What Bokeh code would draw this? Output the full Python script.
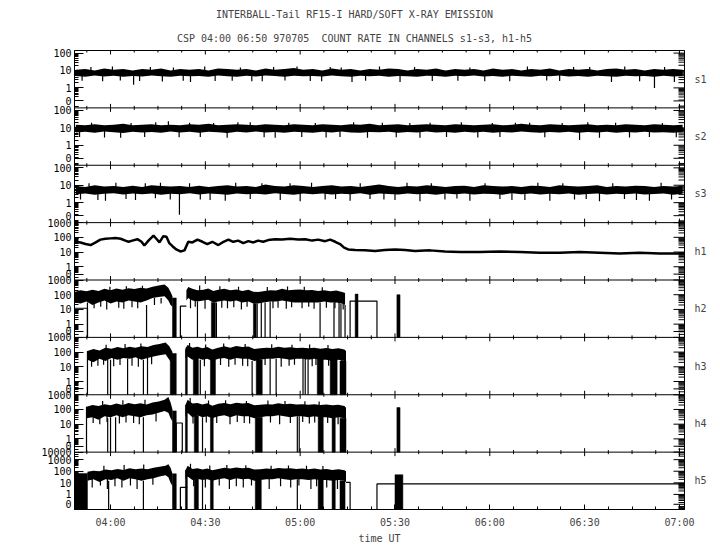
import numpy as np
from bokeh.plotting import figure
from bokeh.models import FixedTicker, LinearAxis, Range1d, Span, Title
from bokeh.embed import file_html
from bokeh.resources import INLINE

nan = float("nan")
FONT = "DejaVu Sans Mono"
FS = "10px"

# ---------------- data (time in minutes after 00:00 UT, values = count rate) ----------
x_ticks = [240, 270, 300, 330, 360, 390, 420]
x_labels = ["04:00", "04:30", "05:00", "05:30", "06:00", "06:30", "07:00"]
panel_names = ["s1", "s2", "s3", "h1", "h2", "h3", "h4", "h5"]

s_t = [229, 232, 235, 238, 241, 244, 247, 250, 253, 256, 259, 262, 265,
       268, 271, 274, 277, 280, 283, 286, 289, 292, 295, 298, 301, 304,
       307, 310, 313, 316, 319, 322, 325, 328, 331, 334, 337, 340, 343,
       346, 349, 352, 355, 358, 361, 364, 367, 370, 373, 376, 379, 382,
       385, 388, 391, 394, 397, 400, 403, 406, 409, 412, 415, 418, 421]
s1_hi = [11, 12, 10, 13, 11, 12, 10, 12, 11, 13, 10, 12, 11,
         12, 10, 13, 12, 11, 12, 10, 13, 11, 12, 14, 11, 12,
         10, 13, 11, 12, 10, 12, 11, 13, 12, 10, 12, 11, 13,
         10, 12, 11, 12, 10, 13, 11, 12, 10, 12, 11, 13, 10,
         12, 11, 12, 10, 12, 13, 11, 12, 10, 12, 11, 12, 11]
s1_lo = [4.8, 4.4, 5.2, 4.5, 5.0, 4.3, 4.9, 4.5, 5.2, 4.6, 4.3, 5.0, 4.6,
         4.9, 4.4, 5.1, 4.7, 4.3, 5.0, 4.5, 5.2, 4.8, 4.4, 5.0, 4.6, 4.9,
         4.5, 5.1, 4.7, 4.3, 5.0, 4.6, 5.0, 4.4, 4.9, 4.7, 4.3, 5.0, 4.8,
         4.4, 5.0, 4.6, 5.1, 4.5, 4.9, 4.3, 5.0, 4.7, 4.4, 5.0, 4.6, 5.1,
         4.5, 4.9, 4.4, 5.0, 4.7, 4.3, 5.0, 4.6, 4.8, 4.4, 5.0, 4.5, 4.9]
s2_hi = [15, 14, 16, 14, 15, 17, 14, 15, 16, 14, 15, 14, 16,
         15, 17, 14, 15, 16, 15, 14, 16, 15, 14, 16, 15, 14,
         16, 15, 14, 16, 15, 17, 14, 15, 16, 14, 15, 16, 15,
         14, 16, 15, 14, 15, 16, 14, 15, 17, 15, 14, 16, 15,
         14, 15, 16, 14, 15, 14, 16, 15, 14, 16, 15, 14, 15]
s2_lo = [5.5, 6.0, 5.2, 6.2, 5.6, 5.0, 6.0, 5.4, 5.8, 5.2, 6.1, 5.5, 5.9,
         5.3, 6.0, 5.6, 5.1, 5.9, 5.4, 6.2, 5.5, 5.8, 5.2, 6.0, 5.6, 5.3,
         5.9, 5.4, 6.1, 5.5, 5.2, 5.8, 5.6, 6.0, 5.3, 5.7, 5.5, 6.1, 5.4,
         5.8, 5.2, 5.9, 5.5, 6.0, 5.3, 5.7, 5.4, 6.1, 5.6, 5.2, 5.8, 5.5,
         6.0, 5.3, 5.7, 5.4, 5.9, 5.2, 5.8, 5.5, 6.0, 5.4, 5.6, 5.3, 5.8]
s3_hi = [9, 8, 10, 8.5, 9, 8, 9.5, 8, 10, 9, 8.5, 9, 8,
         9.5, 8, 9, 10, 8.5, 9, 8, 11, 9, 8.5, 10, 9, 8,
         9, 10, 8.5, 9, 8, 9.5, 11, 9, 8, 9, 8.5, 10, 9,
         8, 9, 9.5, 8, 10, 9, 8.5, 9, 8, 9.5, 9, 8, 10,
         9, 8.5, 9, 10, 8, 9, 8.5, 9.5, 9, 8, 9, 8.5, 9]
s3_lo = [3.0, 3.4, 2.8, 3.2, 3.5, 2.9, 3.3, 3.0, 3.4, 2.8, 3.2, 3.0, 3.5,
         2.9, 3.3, 3.1, 2.8, 3.4, 3.0, 3.2, 2.9, 3.5, 3.1, 2.8, 3.3, 3.0,
         3.4, 2.9, 3.2, 3.0, 3.5, 2.8, 3.3, 3.1, 2.9, 3.4, 3.0, 3.2, 2.8,
         3.3, 3.0, 3.4, 2.9, 3.2, 3.1, 2.8, 3.5, 3.0, 3.3, 2.9, 3.2, 3.0,
         3.4, 2.8, 3.1, 3.3, 2.9, 3.2, 3.0, 3.4, 2.9, 3.1, 3.3, 2.8, 3.2]

# single-sample excursions of the soft channels (time, value) and typical level
s1_mid, s2_mid, s3_mid = 7, 9, 5
s1_spk_t = [231.0, 233.8, 237.5, 240.6, 243.1, 247.3, 249.2, 252.6, 256.4, 259.9,
            263.0, 265.3, 269.8, 273.1, 278.5, 281.1, 284.7, 288.0, 291.6, 295.2,
            299.0, 303.2, 306.8, 309.5, 313.0, 316.4, 320.7, 325.1, 331.6, 336.2,
            341.8, 349.9, 353.7, 358.4, 366.3, 371.9, 378.0, 382.1, 386.5, 391.6,
            398.5, 402.7, 407.4, 412.1, 415.3, 418.4]
s1_spk_v = [2.6, 16, 2.4, 17, 2.7, 1.5, 2.5, 16, 2.3, 15,
            2.6, 2.2, 17, 2.5, 2.6, 15, 2.4, 2.4, 16, 2.7,
            17, 2.5, 2.4, 16, 15, 2.2, 2.6, 17, 2.2, 16,
            2.5, 2.6, 15, 2.4, 2.4, 17, 2.7, 2.5, 16, 16,
            2.2, 17, 2.4, 1.0, 16, 2.2]
s2_spk_t = [230.2, 234.0, 238.1, 243.2, 246.5, 250.8, 254.3, 258.3, 261.7, 265.0,
            268.4, 272.6, 276.9, 280.3, 284.2, 288.6, 292.1, 296.4, 300.5, 304.8,
            308.2, 312.6, 316.9, 321.3, 326.0, 330.4, 334.7, 337.9, 341.1, 346.3,
            351.0, 356.2, 360.8, 363.2, 368.1, 372.6, 377.4, 382.9, 388.4, 391.0,
            394.7, 399.8, 404.2, 410.5, 414.6, 419.0]
s2_spk_v = [3.0, 20, 2.8, 2.7, 19, 3.0, 21, 24, 2.9, 20,
            3.0, 19, 2.7, 21, 21, 2.9, 2.7, 20, 3.0, 19,
            2.8, 3.0, 21, 2.7, 20, 2.9, 19, 2.7, 20, 3.0,
            21, 2.8, 19, 3.0, 20, 20, 2.9, 19, 2.0, 21,
            2.7, 20, 2.8, 3.0, 19, 2.9]
s3_spk_t = [230.5, 233.2, 236.0, 238.4, 241.7, 244.9, 247.9, 251.0, 254.2, 255.8,
            258.9, 261.8, 265.0, 268.4, 271.5, 276.3, 279.6, 284.2, 287.9, 293.7,
            296.8, 300.0, 303.6, 307.9, 311.2, 315.8, 319.0, 322.1, 326.5, 330.0,
            333.8, 337.9, 341.5, 345.8, 349.6, 353.7, 358.5, 363.2, 367.0, 371.1,
            375.2, 379.0, 383.1, 386.8, 390.5, 394.7, 398.9, 402.6, 406.4, 410.5,
            414.2, 417.5]
s3_spk_v = [1.5, 13, 1.4, 1.3, 14, 1.6, 1.4, 13, 1.8, 14,
            1.5, 0.4, 13, 1.5, 1.4, 1.3, 14, 1.6, 13, 1.4,
            13, 1.2, 14, 1.5, 1.6, 1.3, 13, 1.6, 1.5, 1.4,
            14, 1.2, 13, 1.5, 1.7, 1.3, 13, 1.6, 1.4, 1.4,
            14, 1.3, 13, 1.5, 1.6, 1.2, 13, 1.6, 1.4, 1.3,
            14, 1.5]

h1_t = [228.6, 230.5, 232.1, 233.7, 235.3, 236.8, 238.4, 240.0, 241.6, 243.2,
        244.7, 245.7, 246.9, 248.5, 249.8, 250.7, 252.0, 253.6, 254.5, 255.5,
        256.7, 257.7, 258.6, 259.6, 260.8, 262.1, 263.4, 264.6, 265.9, 267.5,
        269.1, 270.6, 272.2, 274.1, 275.4, 277.3, 278.8, 280.4, 282.0, 283.6,
        285.2, 286.7, 288.3, 289.9, 292.1, 294.3, 296.8, 299.4, 301.6, 303.8,
        305.7, 307.9, 309.5, 311.1, 312.6, 313.9, 315.2, 317.4, 320.5, 323.7,
        326.8, 330.0, 333.2, 336.3, 341.1, 345.8, 350.5, 356.8, 363.2, 369.5,
        375.8, 382.1, 388.4, 394.7, 401.1, 407.4, 413.7, 421.6]
h1_v = [50, 45, 35, 30, 45, 70, 80, 85, 90, 80,
        60, 50, 60, 75, 50, 28, 60, 130, 80, 45,
        120, 110, 40, 25, 15, 11, 13, 50, 45, 70,
        50, 35, 50, 30, 45, 70, 50, 60, 40, 55,
        45, 60, 50, 65, 75, 70, 80, 70, 75, 60,
        70, 55, 70, 50, 35, 20, 15, 14, 13, 12,
        14, 15, 14, 12, 13, 11, 10, 10, 11, 10,
        9, 9, 10, 9, 8, 9, 8, 8]

seg2_t = [263.7, 264.4, 265.9, 267.5, 269.1, 270.6, 272.2, 274.1, 276.0, 277.9,
          279.8, 281.7, 283.6, 285.5, 287.4, 289.3, 291.2, 293.1, 295.0, 296.9,
          298.8, 300.7, 302.6, 304.5, 306.4, 308.3, 310.2, 312.1, 314.0, 314.5]

h2_t = [228.6, 230.5, 232.4, 234.3, 236.2, 238.1, 240.0, 241.9, 243.8, 245.7,
        247.6, 249.5, 251.4, 253.3, 255.2, 257.1, 258.3, 259.0, 259.6, nan,
        264.0, 264.6, 265.9, 267.5, 269.4, 270.9, 272.5, 274.1, 276.0, 277.9,
        279.8, 281.7, 283.6, 285.2, 286.7, 288.3, 290.5, 292.4, 294.3, 296.2,
        298.1, 300.0, 301.9, 303.8, 305.7, 307.6, 309.5, 311.4, 313.3, 314.2]
h2_hi = [150, 200, 170, 220, 180, 250, 200, 260, 220, 280,
         240, 300, 260, 350, 420, 500, 300, 150, 80, nan,
         200, 340, 250, 200, 220, 260, 180, 220, 250, 200,
         230, 180, 220, 160, 150, 170, 200, 190, 250, 200,
         220, 230, 200, 210, 180, 200, 170, 190, 150, 130]
h2_lo = [30, 25, 35, 20, 30, 40, 25, 35, 30, 40,
         35, 30, 40, 60, 70, 80, 40, 20, 15, nan,
         40, 60, 40, 35, 40, 45, 30, 35, 40, 35,
         40, 30, 35, 25, 25, 30, 35, 35, 40, 35,
         30, 30, 30, 30, 30, 35, 30, 30, 25, 20]
h2_drop_t = [232.7, 251.4, 267.5, 273.5, 286.4, 287.7, 288.9, 290.5, 306.3, 310.7, 312.3, 312.9, 314.2]
h2_drop_v = [30, 20, 35, 30, 25, 30, 30, 35, 30, 30, 30, 25, 20]
h2_blk_l = [259.6, 271.9, 285.2, 317.4, 330.6]
h2_blk_r = [260.8, 273.2, 286.1, 318.3, 331.6]
h2_blk_v = [60, 30, 25, 110, 100]
h2_step_t = [228.6, 232.7, 232.7, nan, 262.1, 262.1, 264.0, nan, 315.8, 315.8, 324.3, 324.3]
h2_step_v = [12, 12, 0, nan, 0, 17, 17, nan, 0, 37, 37, 0]
h2_mid = 60
h2_nt = [234.8, 236.9, 238.8, 242.6, 244.2, 246.8, 248.6, 253.9, 256.0, 265.3,
         266.8, 269.9, 275.2, 277.0, 279.0, 281.4, 283.2, 291.4, 293.0, 295.6,
         297.3, 300.6, 302.7, 304.4, 308.3, 311.0, 313.6,
         239.8, 245.0, 250.1, 268.2, 274.6, 280.5, 289.6, 296.0, 301.3, 307.0]
h2_nv = [12, 15, 10, 13, 11, 14, 12, 20, 25, 12,
         15, 11, 13, 12, 14, 10, 15, 12, 13, 11,
         14, 12, 15, 11, 13, 12, 10,
         350, 380, 400, 420, 380, 350, 330, 360, 350, 320]

h3_t = [232.7, 234.6, 236.5, 238.4, 240.3, 242.2, 244.1, 246.0, 247.9, 249.8,
        251.7, 253.6, 255.5, 257.4, 258.6, 259.6, nan] + seg2_t
h3_hi = [120, 160, 130, 200, 170, 220, 180, 230, 200, 250,
         220, 300, 350, 450, 250, 100, nan,
         180, 300, 200, 230, 180, 220, 150, 200, 250, 200,
         260, 220, 240, 160, 180, 200, 190, 230, 200, 210,
         190, 200, 180, 200, 170, 190, 160, 180, 150, 120]
h3_lo = [30, 20, 35, 25, 40, 30, 40, 35, 45, 30,
         40, 50, 60, 70, 30, 15, nan,
         40, 50, 30, 40, 30, 35, 25, 35, 40, 30,
         40, 35, 35, 25, 30, 35, 35, 40, 35, 30,
         35, 35, 30, 35, 30, 30, 25, 30, 25, 20]
h3_drop_t = [232.7, 239.1, 240.0, 245.4, 250.4, 251.7, 268.4, 284.8, 290.5, 292.4, 300.9, 301.6, 302.5]
h3_drop_v = [120, 30, 30, 35, 30, 40, 30, 25, 35, 35, 35, 35, 30]
h3_blk_l = [258.9, 263.7, 266.2, 271.6, 286.1, 305.4, 309.5, 312.6]
h3_blk_r = [260.8, 264.3, 267.8, 273.2, 288.0, 307.3, 311.7, 314.5]
h3_blk_v = [80, 150, 40, 30, 30, 35, 30, 25]
h3_mid = 60
h3_nt = [234.0, 236.0, 237.8, 241.0, 243.0, 246.8, 248.8, 253.0, 266.9, 269.7,
         274.8, 277.4, 279.4, 281.8, 283.4, 288.9, 294.0, 296.5, 298.2, 303.8,
         305.0, 309.0, 313.2,
         238.6, 244.6, 249.6, 265.0, 270.1, 275.8, 282.6, 291.0, 297.4, 303.0, 308.8]
h3_nv = [10, 12, 14, 11, 13, 12, 10, 15, 12, 11,
         13, 10, 14, 12, 11, 13, 10, 12, 14, 11,
         13, 12, 10,
         320, 350, 380, 420, 330, 380, 360, 340, 320, 330, 300]

h4_t = [232.4, 234.3, 236.2, 238.1, 240.0, 241.9, 243.8, 245.7, 247.6, 249.5,
        251.4, 253.3, 255.2, 257.1, 258.3, 259.0, 259.6, nan] + seg2_t
h4_hi = [150, 200, 170, 230, 190, 250, 200, 280, 230, 260,
         220, 300, 350, 450, 700, 300, 100, nan,
         200, 460, 250, 280, 220, 260, 180, 240, 280, 230,
         290, 250, 270, 190, 210, 230, 220, 260, 230, 240,
         220, 230, 210, 230, 200, 220, 190, 210, 170, 130]
h4_lo = [25, 30, 20, 35, 30, 40, 30, 40, 35, 30,
         40, 45, 60, 80, 60, 25, 15, nan,
         35, 60, 30, 40, 30, 35, 25, 35, 40, 30,
         40, 35, 35, 25, 30, 35, 35, 40, 35, 30,
         35, 35, 30, 35, 30, 30, 25, 30, 25, 20]
h4_drop_t = [232.4, 239.1, 240.0, 241.6, 250.4, 269.1, 299.1, 299.7]
h4_drop_v = [150, 25, 30, 30, 30, 30, 35, 35]
h4_blk_l = [259.6, 263.7, 266.5, 271.6, 285.8, 305.7, 310.1, 312.6, 330.6]
h4_blk_r = [260.8, 264.3, 267.8, 272.5, 288.0, 307.3, 311.1, 314.5, 331.6]
h4_blk_v = [80, 200, 40, 30, 30, 35, 30, 25, 135]
h4_step_t = [260.8, 260.8, 262.7, 262.7]
h4_step_v = [0, 12, 12, 0]
h4_mid = 60
h4_nt = [234.5, 236.6, 238.9, 242.8, 244.9, 247.3, 249.1, 254.4, 266.1, 270.3,
         273.6, 277.8, 280.1, 282.3, 284.0, 290.6, 293.5, 296.9, 300.8, 302.9,
         304.6, 308.7, 312.0,
         237.5, 243.9, 250.9, 265.2, 271.0, 276.4, 283.0, 289.8, 295.2, 301.5, 306.0]
h4_nv = [12, 10, 14, 11, 13, 12, 10, 15, 11, 13,
         12, 10, 14, 12, 11, 13, 10, 12, 14, 11,
         13, 12, 10,
         380, 420, 450, 600, 400, 420, 380, 400, 380, 360, 350]

h5_t = [232.7, 234.6, 236.5, 238.4, 240.3, 242.2, 244.1, 246.0, 247.9, 249.8,
        251.7, 253.6, 255.5, 257.4, 258.3, 259.0, 259.6, nan] + seg2_t
h5_hi = [90, 110, 100, 140, 120, 160, 130, 180, 150, 170,
         150, 200, 250, 300, 400, 200, 60, nan,
         120, 300, 160, 180, 140, 170, 120, 160, 200, 170,
         210, 180, 200, 140, 150, 170, 160, 190, 170, 180,
         160, 170, 150, 170, 140, 160, 130, 150, 120, 100]
h5_lo = [15, 20, 12, 20, 18, 25, 15, 25, 20, 15,
         20, 25, 35, 45, 30, 10, 5, nan,
         20, 35, 18, 22, 18, 20, 15, 20, 25, 18,
         25, 20, 22, 15, 18, 20, 20, 25, 20, 18,
         20, 20, 18, 20, 18, 18, 15, 18, 15, 12]
h5_drop_t = [239.4, 250.4, 269.1, 299.1]
h5_drop_v = [15, 15, 18, 20]
h5_blk_l = [228.6, 259.6, 263.7, 266.5, 271.6, 285.8, 305.7, 310.1, 312.6, 330.0]
h5_blk_r = [232.7, 260.8, 264.3, 267.8, 272.5, 287.7, 307.3, 311.1, 314.2, 332.5]
h5_blk_v = [65, 60, 120, 22, 18, 18, 20, 18, 15, 50]
h5_step_t = [262.1, 262.1, 264.3, nan, 314.5, 315.8, 315.8, nan, 324.3, 324.3, 421.6]
h5_step_v = [0, 4, 4, nan, 11, 11, 0, nan, 0, 8, 8]
h5_mid = 40
h5_nt = [234.2, 236.8, 239.0, 241.4, 243.6, 246.3, 248.4, 253.4, 266.3, 270.0,
         274.4, 277.6, 279.8, 282.0, 284.6, 290.2, 293.8, 297.0, 299.6, 303.4,
         305.2, 308.4, 311.8,
         237.9, 244.3, 250.5, 265.3, 271.4, 276.8, 282.8, 290.8, 296.3, 302.0, 307.2]
h5_nv = [4, 6, 3, 5, 4, 6, 3, 7, 5, 4,
         6, 3, 5, 4, 6, 3, 5, 4, 6, 3,
         5, 4, 3,
         300, 350, 380, 450, 320, 350, 330, 300, 320, 300, 280]

# ---------------- panel scales (log10 extent of each strip) ----------------
panel_lo = [-1.15, -1.15, -1.15, -0.9, -0.9, -0.9, -0.9, -1.3]
panel_hi = [2.15, 2.15, 2.15, 3.0, 3.0, 3.0, 3.0, 3.65]
zero_lab = [-0.75, -0.75, -0.75, -0.5, -0.5, -0.5, -0.5, -0.85]
top_label = [None] * 7 + ["10000"]

X0, X1 = 228.6, 421.6
FW, FH = 610, 459


def ypos(i, v):
    v = np.asarray(v, dtype=float)
    lo, hi = panel_lo[i], panel_hi[i]
    safe = np.where(v >= 1, v, 1.0)
    safe = np.where(np.isnan(safe), 1.0, safe)
    lg = np.where(v >= 1, np.log10(safe), lo * (1 - v))
    lg = np.where(np.isnan(v), np.nan, lg)
    return (7 - i) + (lg - lo) / (hi - lo)


def split(t, *arrs):
    t = np.asarray(t, dtype=float)
    arrs = [np.asarray(a, dtype=float) for a in arrs]
    out, start = [], 0
    for j in range(len(t) + 1):
        if j == len(t) or np.isnan(t[j]):
            if j > start:
                out.append([t[start:j]] + [a[start:j] for a in arrs])
            start = j + 1
    return out


def pair(a, b):
    n = min(len(a), len(b))
    return list(a[:n]), list(b[:n])


p = figure(frame_width=FW, frame_height=FH,
           x_range=Range1d(X0, X1), y_range=Range1d(0, 8),
           output_backend="svg", toolbar_location=None,
           min_border_left=74, min_border_right=30, min_border_top=50,
           min_border_bottom=5)
p.xgrid.visible = False
p.ygrid.visible = False
p.outline_line_color = "black"
p.outline_line_width = 1
p.background_fill_color = "white"
p.border_fill_color = "white"

# titles (p.title is the outer line, the added Title sits next to the frame)
t1 = "INTERBALL-Tail RF15-I HARD/SOFT X-RAY EMISSION"
t2 = "CSP 04:00 06:50 970705 \u00a0COUNT RATE IN CHANNELS s1-s3, h1-h5"
p.title.text = t1
p.title.align = "left"
p.title.offset = 354 - 74 - len(t1) * 6.02 / 2
p.title.text_font = FONT
p.title.text_font_size = FS
p.title.text_font_style = "normal"
p.title.standoff = 7
p.add_layout(Title(text=t2, align="left", offset=354 - 74 - len(t2) * 6.02 / 2,
                   text_font=FONT, text_font_size=FS, text_font_style="normal",
                   standoff=14), "above")

# ---------------- y ticks ----------------
major, minor, ovr = [], [], {}
for i in range(8):
    lo, hi = panel_lo[i], panel_hi[i]

    def f(lg, i=i, lo=lo, hi=hi):
        return round((7 - i) + (lg - lo) / (hi - lo), 5)

    for d in range(0, int(np.floor(hi)) + 1):
        y = f(d)
        major.append(y)
        ovr[y] = str(10 ** d)
    y = f(zero_lab[i])
    major.append(y)
    ovr[y] = "0"
    if top_label[i]:
        y = f(hi)
        major.append(y)
        ovr[y] = top_label[i]
    for n in range(int(np.floor(lo)), int(np.ceil(hi))):
        for k in range(2, 10):
            lg = n + np.log10(k)
            if lo < lg < hi:
                minor.append(f(lg))

yax = p.yaxis[0]
yax.ticker = FixedTicker(ticks=major, minor_ticks=minor)
yax.major_label_overrides = ovr
yax.major_tick_in = 9
yax.major_tick_out = 0
yax.minor_tick_in = 4
yax.minor_tick_out = 0
yax.major_label_standoff = 3
yax.major_label_text_font = FONT
yax.major_label_text_font_size = FS
yax.major_label_text_color = "black"
yax.axis_line_color = "black"

centers = [7.5 - i for i in range(8)]
nax = LinearAxis(ticker=FixedTicker(ticks=centers, minor_ticks=[]),
                 major_label_overrides={c: n for c, n in zip(centers, panel_names)},
                 major_tick_in=0, major_tick_out=0, minor_tick_in=0, minor_tick_out=0,
                 axis_line_color="black", major_label_standoff=10,
                 major_label_text_font=FONT, major_label_text_font_size=FS)
p.add_layout(nax, "right")

# tick marks on the right-hand frame edge (same positions as the left axis)
upx = (X1 - X0) / FW
rx0 = [X1 - 11 * upx] * len(major) + [X1 - 6 * upx] * len(minor)
ry = major + minor
p.segment(rx0, ry, [X1] * len(ry), ry, line_color="black", line_width=1)

# ---------------- x axis ----------------
minor_x = []
for m in x_ticks:
    for k in (1, 2, 3):
        mt = m - 7.5 * k
        if mt > X0:
            minor_x.append(mt)
minor_x = sorted(set(minor_x) - set(x_ticks))
xax = p.xaxis[0]
xax.ticker = FixedTicker(ticks=x_ticks, minor_ticks=minor_x)
xax.major_label_overrides = {t: l for t, l in zip(x_ticks, x_labels)}
xax.major_tick_in = 5
xax.major_tick_out = 0
xax.minor_tick_in = 3
xax.minor_tick_out = 0
xax.major_label_standoff = 7
xax.major_label_text_font = FONT
xax.major_label_text_font_size = FS
xax.axis_label = "time UT"
xax.axis_label_text_font = FONT
xax.axis_label_text_font_size = FS
xax.axis_label_text_font_style = "normal"
xax.axis_label_standoff = 2
xax.axis_line_color = "black"

# strip boundaries with their tick marks
for k in range(1, 8):
    p.add_layout(Span(location=k, dimension="width", line_color="black", line_width=1))
upp = 8 / FH
tx0, ty0, tx1, ty1 = [], [], [], []
for k in range(1, 9):
    for xs, d in ((x_ticks, 4 * upp), (minor_x, 2 * upp)):
        for xv in xs:
            tx0.append(xv)
            tx1.append(xv)
            ty0.append(k - d)
            ty1.append(min(k + d, 8))
p.segment(tx0, ty0, tx1, ty1, line_color="black", line_width=1)

# ---------------- soft channels ----------------
for i, (hi_, lo_, st, sv, mid) in enumerate([
        (s1_hi, s1_lo, s1_spk_t, s1_spk_v, s1_mid),
        (s2_hi, s2_lo, s2_spk_t, s2_spk_v, s2_mid),
        (s3_hi, s3_lo, s3_spk_t, s3_spk_v, s3_mid)]):
    p.varea(x=s_t, y1=ypos(i, lo_), y2=ypos(i, hi_), fill_color="black")
    st, sv = pair(st, sv)
    p.segment(st, ypos(i, [mid] * len(st)), st, ypos(i, sv), line_color="black", line_width=1.2)

# ---------------- h1 ----------------
p.line(h1_t, ypos(3, h1_v), line_color="black", line_width=2.5)

# ---------------- h2 - h5 ----------------
hard = [
    (4, h2_t, h2_lo, h2_hi, h2_drop_t, h2_drop_v, h2_blk_l, h2_blk_r, h2_blk_v, h2_step_t, h2_step_v, h2_nt, h2_nv, h2_mid),
    (5, h3_t, h3_lo, h3_hi, h3_drop_t, h3_drop_v, h3_blk_l, h3_blk_r, h3_blk_v, None, None, h3_nt, h3_nv, h3_mid),
    (6, h4_t, h4_lo, h4_hi, h4_drop_t, h4_drop_v, h4_blk_l, h4_blk_r, h4_blk_v, h4_step_t, h4_step_v, h4_nt, h4_nv, h4_mid),
    (7, h5_t, h5_lo, h5_hi, h5_drop_t, h5_drop_v, h5_blk_l, h5_blk_r, h5_blk_v, h5_step_t, h5_step_v, h5_nt, h5_nv, h5_mid),
]
for (i, t, lo_, hi_, dt, dv, bl, br, bv, stt, stv, nt, nv, mid) in hard:
    for seg_t, seg_lo, seg_hi in split(t, lo_, hi_):
        p.varea(x=seg_t, y1=ypos(i, seg_lo), y2=ypos(i, seg_hi), fill_color="black")
    dt, dv = pair(dt, dv)
    p.segment(dt, ypos(i, [0] * len(dt)), dt, ypos(i, dv), line_color="black", line_width=1.2)
    nt, nv = pair(nt, nv)
    p.segment(nt, ypos(i, [mid] * len(nt)), nt, ypos(i, nv), line_color="black", line_width=1.2)
    n = min(len(bl), len(br), len(bv))
    p.quad(left=bl[:n], right=br[:n], bottom=ypos(i, [0] * n), top=ypos(i, bv[:n]),
           fill_color="black", line_color="black", line_width=0.5)
    if stt is not None:
        p.line(stt, ypos(i, stv), line_color="black", line_width=1.2)

open("out.html", "w").write(file_html(p, INLINE))
